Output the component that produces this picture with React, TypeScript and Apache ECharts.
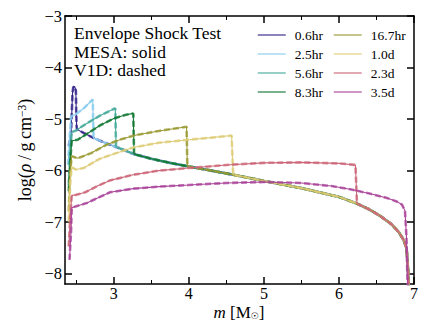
import React, { useEffect, useRef } from 'react';
import * as echarts from 'echarts';

const seriesNames = ['0.6hr', '2.5hr', '5.6hr', '8.3hr', '16.7hr', '1.0d', '2.3d', '3.5d'];
const colors = ['#332288', '#88CCEE', '#44AA99', '#117733', '#999933', '#DDCC77', '#CC6677', '#AA4499'];

// unshocked envelope (m [Msun], log rho)
const ambient: number[][] = [
  [2.51, -5.2], [2.6, -5.27], [2.75, -5.38], [2.9, -5.47], [3.03, -5.54], [3.15, -5.61],
  [3.27, -5.68], [3.5, -5.77], [3.75, -5.85], [4.0, -5.92], [4.3, -6.0], [4.59, -6.08],
  [5.0, -6.2], [5.5, -6.34], [6.0, -6.51], [6.24, -6.64], [6.4, -6.75], [6.55, -6.88],
  [6.7, -7.04], [6.8, -7.2], [6.86, -7.34], [6.9, -7.5], [6.92, -7.9], [6.94, -8.6],
];

const inner06hr: number[][] = [
  [2.4, -5.52], [2.43, -5.3], [2.45, -4.5], [2.46, -4.38], [2.48, -4.37], [2.495, -4.45], [2.5, -4.9], [2.505, -5.15],
];
const inner25hr: number[][] = [
  [2.39, -5.89], [2.41, -5.4], [2.43, -4.95], [2.5, -4.9], [2.6, -4.79], [2.72, -4.62], [2.73, -5.37],
];
const inner56hr: number[][] = [
  [2.4, -6.28], [2.42, -5.6], [2.44, -5.25], [2.5, -5.22], [2.6, -5.12], [2.82, -4.93], [3.02, -4.79], [3.03, -5.54],
];
const inner83hr: number[][] = [
  [2.4, -6.4], [2.42, -5.8], [2.44, -5.42], [2.52, -5.4], [2.65, -5.28], [2.82, -5.12], [3.0, -4.99],
  [3.15, -4.92], [3.26, -4.89], [3.27, -5.68],
];
const inner167hr: number[][] = [
  [2.4, -6.79], [2.42, -6.0], [2.44, -5.72], [2.52, -5.76], [2.7, -5.66], [2.9, -5.5], [3.1, -5.39],
  [3.3, -5.31], [3.6, -5.23], [3.97, -5.15], [3.98, -5.92],
];
const inner10d: number[][] = [
  [2.4, -6.99], [2.42, -6.2], [2.44, -5.94], [2.5, -5.98], [2.6, -5.95], [2.8, -5.78], [2.95, -5.7],
  [3.26, -5.55], [3.6, -5.46], [4.0, -5.4], [4.3, -5.36], [4.57, -5.32], [4.59, -6.08],
];
const inner23d: number[][] = [
  [2.4, -7.47], [2.42, -6.9], [2.44, -6.48], [2.5, -6.47], [2.62, -6.42], [2.78, -6.3], [2.95, -6.19],
  [3.26, -6.08], [3.6, -6.0], [4.0, -5.95], [4.5, -5.89], [5.0, -5.85], [5.5, -5.84], [6.0, -5.86],
  [6.22, -5.89], [6.24, -6.64],
];
const profile35d: number[][] = [
  [2.41, -7.73], [2.43, -7.2], [2.44, -6.72], [2.5, -6.69], [2.64, -6.63], [2.8, -6.52], [2.95, -6.42],
  [3.26, -6.35], [3.6, -6.31], [4.0, -6.28], [4.5, -6.24], [5.0, -6.22], [5.5, -6.24], [5.9, -6.3],
  [6.15, -6.36], [6.42, -6.45], [6.64, -6.53], [6.77, -6.6], [6.84, -6.66], [6.88, -6.78], [6.9, -7.3],
  [6.92, -8.6],
];

const xTicks = [3, 4, 5, 6, 7];
const xMinorTicks = [2.5, 3.5, 4.5, 5.5, 6.5];
const yTicks = [-8, -7, -6, -5, -4, -3];

const innerParts = [inner06hr, inner25hr, inner56hr, inner83hr, inner167hr, inner10d, inner23d];

function buildProfile(i: number): number[][] {
  if (i >= innerParts.length) return profile35d;
  const part = innerParts[i];
  const lastM = part[part.length - 1][0];
  return part.concat(ambient.filter((p) => p[0] > lastM));
}

const SERIF = "'Liberation Serif', 'DejaVu Serif', serif";

export default function App() {
  const ref = useRef<HTMLDivElement>(null);
  useEffect(() => {
    document.body.style.margin = '0';
    if (!ref.current) return;
    const chart = echarts.init(ref.current, undefined, { renderer: 'svg' });
    const series: any[] = [];
    seriesNames.forEach((name, i) => {
      const data = buildProfile(i);
      series.push({
        type: 'line', name, data, symbol: 'none', showSymbol: false, clip: true,
        lineStyle: { color: colors[i], width: 1.1 }, itemStyle: { color: colors[i] },
      });
      series.push({
        type: 'line', name: name + ' V1D', data, symbol: 'none', showSymbol: false, clip: true,
        lineStyle: { color: colors[i], width: 2.6, type: [6, 3], opacity: 0.75 }, itemStyle: { color: colors[i] },
      });
    });
    const fmt = (v: number) => (v < 0 ? '\u2212' + Math.abs(v) : String(v));
    const axisLineStyle = { color: '#000', width: 1.5 };
    const legendCommon = {
      orient: 'vertical', itemWidth: 28, itemHeight: 14, itemGap: 5, top: 23,
      itemStyle: { opacity: 0, borderWidth: 0 },
      lineStyle: { width: 1.5, opacity: 0.75 },
      textStyle: { fontFamily: SERIF, fontSize: 13.5, color: '#000', padding: [0, 0, 0, 4] },
    };
    chart.setOption({
      animation: false,
      grid: { left: 65, right: 22, top: 16, bottom: 43 },
      legend: [
        { ...legendCommon, left: 252, data: seriesNames.slice(0, 4) },
        { ...legendCommon, left: 328, data: seriesNames.slice(4) },
      ],
      xAxis: [
        {
          type: 'value', min: 2.35, max: 7, position: 'bottom',
          axisLine: { show: true, onZero: false, lineStyle: axisLineStyle },
          axisTick: { show: true, inside: true, length: 7, customValues: xTicks, lineStyle: axisLineStyle },
          axisLabel: { customValues: xTicks, fontFamily: SERIF, fontSize: 16, color: '#000', margin: 1 },
          splitLine: { show: false },
        },
        {
          type: 'value', min: 2.35, max: 7, position: 'bottom',
          axisLine: { show: false, onZero: false },
          axisTick: { show: true, inside: true, length: 4, customValues: xMinorTicks, lineStyle: { color: '#000', width: 1 } },
          axisLabel: { show: false },
          splitLine: { show: false },
        },
        {
          type: 'value', min: 2.35, max: 7, position: 'top',
          axisLine: { show: true, onZero: false, lineStyle: axisLineStyle },
          axisTick: { show: true, inside: true, length: 7, customValues: xTicks, lineStyle: axisLineStyle },
          axisLabel: { show: false },
          splitLine: { show: false },
        },
        {
          type: 'value', min: 2.35, max: 7, position: 'top',
          axisLine: { show: false, onZero: false },
          axisTick: { show: true, inside: true, length: 4, customValues: xMinorTicks, lineStyle: { color: '#000', width: 1 } },
          axisLabel: { show: false },
          splitLine: { show: false },
        },
      ],
      yAxis: [
        {
          type: 'value', min: -8.2, max: -3, position: 'left',
          axisLine: { show: true, onZero: false, lineStyle: axisLineStyle },
          axisTick: { show: true, inside: true, length: 7, customValues: yTicks, lineStyle: axisLineStyle },
          axisLabel: { customValues: yTicks, formatter: fmt, fontFamily: SERIF, fontSize: 16.5, color: '#000', margin: 3 },
          splitLine: { show: false },
        },
        {
          type: 'value', min: -8.2, max: -3, position: 'right',
          axisLine: { show: true, onZero: false, lineStyle: axisLineStyle },
          axisTick: { show: true, inside: true, length: 7, customValues: yTicks, lineStyle: axisLineStyle },
          axisLabel: { show: false },
          splitLine: { show: false },
        },
      ],
      graphic: [
        { type: 'text', left: 74, top: 24, style: { text: 'Envelope Shock Test', font: `17.5px ${SERIF}`, fill: '#000' } },
        { type: 'text', left: 74, top: 42.5, style: { text: 'MESA: solid', font: `17.5px ${SERIF}`, fill: '#000' } },
        { type: 'text', left: 74, top: 61, style: { text: 'V1D: dashed', font: `17.5px ${SERIF}`, fill: '#000' } },
        {
          type: 'text', x: 239, y: 312,
          style: {
            text: '{i|m} [M{sub|\u2609}]', align: 'center', verticalAlign: 'middle', fill: '#000',
            font: `17px ${SERIF}`,
            rich: {
              i: { fontFamily: SERIF, fontSize: 17, fontStyle: 'italic', fill: '#000' },
              sub: { fontFamily: "'DejaVu Sans', sans-serif", fontSize: 9, verticalAlign: 'bottom', fill: '#000' },
            },
          },
        },
        {
          type: 'text', x: 25, y: 150, rotation: Math.PI / 2,
          style: {
            text: 'log({i|\u03c1}\u2009/\u2009g\u2009cm{sup|\u22123})', align: 'center', verticalAlign: 'middle', fill: '#000',
            font: `18px ${SERIF}`,
            rich: {
              i: { fontFamily: SERIF, fontSize: 18, fontStyle: 'italic', fill: '#000' },
              sup: { fontFamily: SERIF, fontSize: 11.5, verticalAlign: 'top', fill: '#000', padding: [0, 0, 6, 0] },
            },
          },
        },
      ],
      series,
    });
    return () => chart.dispose();
  }, []);
  return <div ref={ref} style={{ width: 436, height: 327 }} />;
}
